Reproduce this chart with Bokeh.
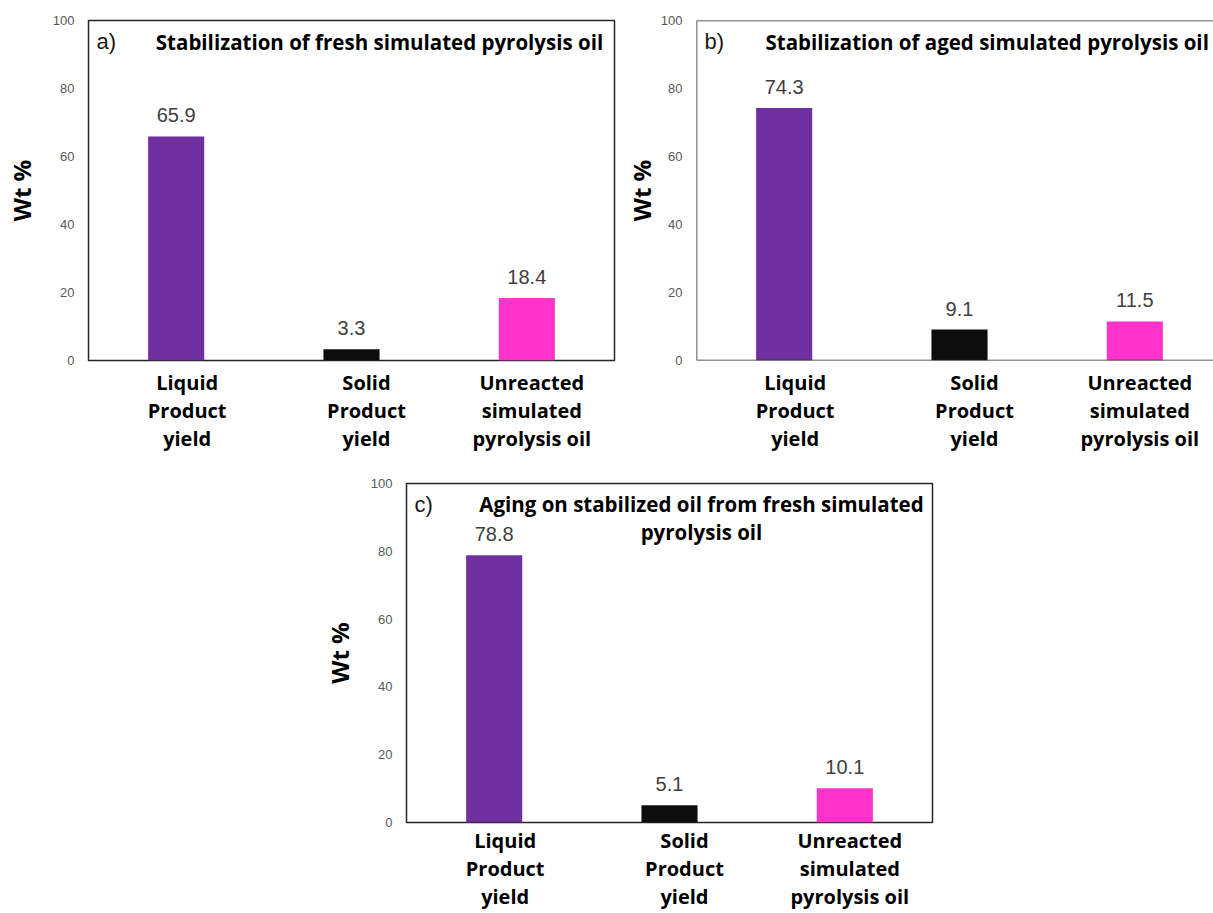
from bokeh.plotting import figure
from bokeh.models import Range1d, FixedTicker, Label, ColumnDataSource, Span
from bokeh.layouts import column, row
from bokeh.core.properties import value
from bokeh.embed import file_html
from bokeh.resources import INLINE

# ---- data -------------------------------------------------------------
categories = [
    "Liquid\nProduct\nyield",
    "Solid\nProduct\nyield",
    "Unreacted\nsimulated\npyrolysis oil",
]
fresh_oil = [65.9, 3.3, 18.4]          # a) fresh simulated pyrolysis oil
aged_oil = [74.3, 9.1, 11.5]           # b) aged simulated pyrolysis oil
aged_stabilized = [78.8, 5.1, 10.1]    # c) aging of stabilized oil
bar_colors = ["#7030A0", "#0D0D0D", "#FF33CC"]
y_ticks = [0, 20, 40, 60, 80, 100]
panel_tags = ["a)", "b)", "c)"]
panel_titles = [
    "Stabilization of fresh simulated pyrolysis oil",
    "Stabilization of aged simulated pyrolysis oil",
    "Aging on stabilized oil from fresh simulated\npyrolysis oil",
]

# ---- styling ----------------------------------------------------------
FRAME_W, FRAME_H = 526, 340
UNIT = FRAME_W / len(categories)        # pixels per category slot
BOLD_FONT = "Open Sans"
PLAIN_FONT = "Liberation Sans"
cat_shift = [11, 15, 5]                 # centre of each category name vs. bar centre (px)


def make_panel(values, tag, title, width, height, borders, frame_w,
               title_x, title_align, title_dy, ylabel_gap, xlabel_gap, boxed=True):
    left, right, top, bottom = borders
    xs = [i + 0.5 for i in range(len(categories))]
    p = figure(width=width, height=height,
               x_range=Range1d(0, frame_w / UNIT), y_range=Range1d(0, 100),
               output_backend="svg", toolbar_location=None,
               min_border_left=left, min_border_right=right,
               min_border_top=top, min_border_bottom=bottom,
               background_fill_color="white", border_fill_color="white")
    p.xgrid.visible = False
    p.ygrid.visible = False

    # category names on the x axis, placed just below each bar
    label_pos = [x + dx / UNIT for x, dx in zip(xs, cat_shift)]
    xa = p.xaxis[0]
    xa.ticker = FixedTicker(ticks=label_pos)
    xa.major_label_overrides = {pos: name for pos, name in zip(label_pos, categories)}
    xa.axis_line_color = None
    xa.major_tick_line_color = None
    xa.minor_tick_line_color = None
    xa.major_tick_out = 0
    xa.major_tick_in = 0
    xa.minor_tick_out = 0
    xa.major_label_standoff = xlabel_gap
    xa.major_label_text_font = BOLD_FONT
    xa.major_label_text_font_style = "bold"
    xa.major_label_text_font_size = "20px"
    xa.major_label_text_line_height = 1.05
    xa.major_label_text_color = "black"

    ax = p.yaxis[0]
    ax.ticker = FixedTicker(ticks=y_ticks)
    ax.axis_line_color = None
    ax.major_tick_line_color = None
    ax.minor_tick_line_color = None
    ax.major_tick_out = 0
    ax.major_tick_in = 0
    ax.minor_tick_out = 0
    ax.major_label_standoff = 14
    ax.major_label_text_font = PLAIN_FONT
    ax.major_label_text_font_size = "13px"
    ax.major_label_text_color = "#595959"
    ax.axis_label = "Wt %"
    ax.axis_label_text_font = BOLD_FONT
    ax.axis_label_text_font_style = "bold"
    ax.axis_label_text_font_size = "24px"
    ax.axis_label_text_color = "black"
    ax.axis_label_standoff = ylabel_gap

    if boxed:
        p.outline_line_color = "#262626"
        p.outline_line_width = 1.5
    else:
        p.outline_line_color = None
        for loc, dim in [(0, "height"), (0, "width"), (100, "width")]:
            p.add_layout(Span(location=loc, dimension=dim,
                              line_color="#262626", line_width=1.5))

    src = ColumnDataSource(dict(
        x=xs, top=values, color=bar_colors,
        label=[f"{v:.1f}" for v in values],
    ))
    p.vbar(x="x", top="top", width=0.32, source=src,
           fill_color="color", line_color=None)
    p.text(x="x", y="top", text="label", source=src,
           text_align="center", text_baseline="alphabetic", y_offset=-21,
           text_font=value(PLAIN_FONT), text_font_size="20px",
           text_color="#404040")

    p.add_layout(Label(x=0, y=100, x_offset=8, y_offset=-21, text=tag,
                       text_align="left", text_baseline="middle",
                       text_font=PLAIN_FONT, text_font_size="22px",
                       text_color="#1a1a1a"))
    p.add_layout(Label(x=title_x, y=100, y_offset=title_dy, text=title,
                       text_align=title_align, text_baseline="middle",
                       text_font=BOLD_FONT, text_font_style="bold",
                       text_font_size="20.5px", text_line_height=1.0,
                       text_color="black"))
    return p


pa = make_panel(fresh_oil, panel_tags[0], panel_titles[0], 620, 470,
                (88, 6, 20, 110), FRAME_W, 291 / UNIT, "center", -21, 12, 8)
pb = make_panel(aged_oil, panel_tags[1], panel_titles[1], 593, 470,
                (76, 0, 20, 110), 517, 69 / UNIT, "left", -21, 0, 8, boxed=False)
pc = make_panel(aged_stabilized, panel_tags[2], panel_titles[2], 1213, 443,
                (406, 281, 13, 90), FRAME_W, 295 / UNIT, "center", -34, 12, 4)

layout = column(row(pa, pb, spacing=0), pc, spacing=0)

with open("out.html", "w") as f:
    f.write(file_html(layout, INLINE))
